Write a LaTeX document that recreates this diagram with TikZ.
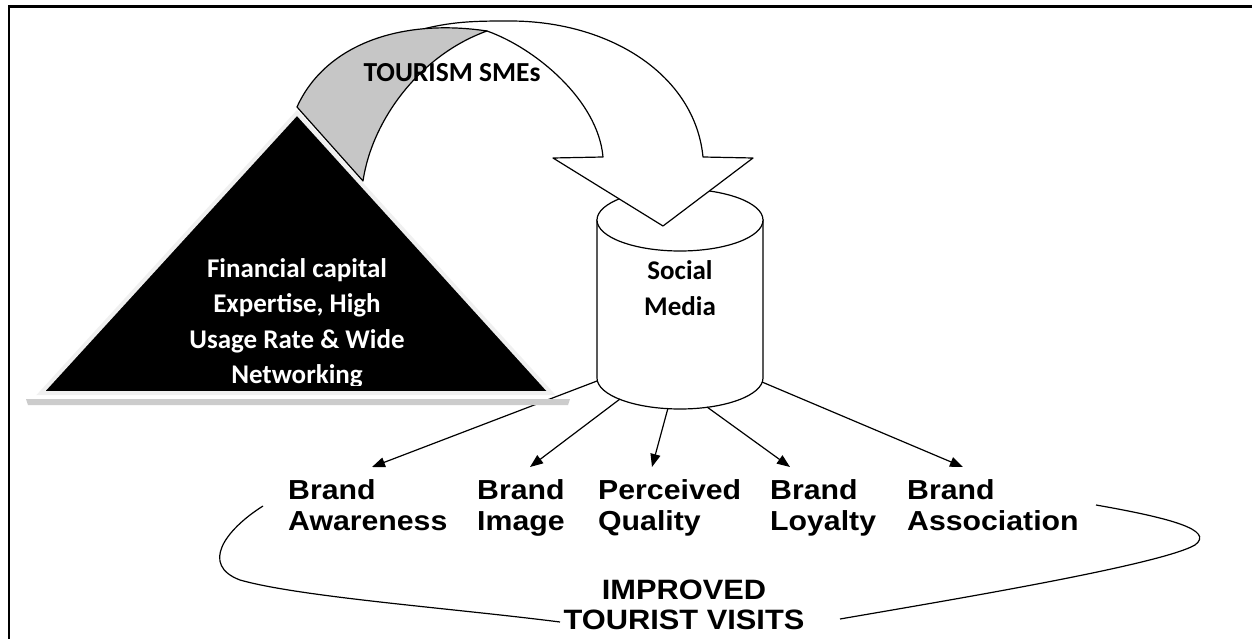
\documentclass[tikz,border=0pt]{standalone}
\usepackage{fontspec}
\setmainfont{Carlito}
\newfontfamily\calfont{Carlito}
\newfontfamily\brandfont[FakeStretch=1.1]{Liberation Sans}
\usetikzlibrary{arrows.meta}

\tikzset{
  frameline/.style={line width=2.2pt},
  bandline/.style={draw=black, line width=1.2pt, line join=round},
  tribody/.style={fill=black, draw=gray!12, line width=4pt, line join=miter},
  trishadow/.style={fill=gray!40},
  tritext/.style={font=\calfont\bfseries\fontsize{27}{35.5}\selectfont, text=white,
    align=center, inner sep=0pt, anchor=north},
  cylline/.style={draw=black, line width=1.2pt, fill=white},
  cyltext/.style={font=\calfont\bfseries\fontsize{27}{36}\selectfont,
    align=center, inner sep=0pt, anchor=north},
  smestext/.style={font=\calfont\bfseries\fontsize{27.5}{30}\selectfont, inner sep=0pt, anchor=base},
  brand/.style={font=\brandfont\bfseries\fontsize{27.5}{31}\selectfont,
    align=left, inner sep=0pt, anchor=north west},
  visits/.style={font=\brandfont\bfseries\fontsize{28}{30}\selectfont,
    align=center, inner sep=0pt, anchor=north},
  link/.style={draw=black, line width=1.2pt, -{Triangle[length=13pt,width=10pt]}},
  loop/.style={draw=black, line width=1.2pt},
}

\begin{document}
\begin{tikzpicture}[x=1pt,y=-1pt]
\useasboundingbox (0,0) rectangle (1252,639);
\fill[white] (0,0) rectangle (1252,639);

% frame (left and top edges)
\draw[frameline] (9,639) -- (9,6.5) -- (1252,6.5);

% social media cylinder
\path[cylline] (597,220) -- (597,378)
  .. controls (597,395.1) and (634.2,409) .. (680,409)
  .. controls (725.8,409) and (763,395.1) .. (763,378)
  -- (763,220) -- cycle;
\draw[cylline] (680,220) ellipse [x radius=83, y radius=31];
\node[cyltext] (sm) at (680,260) {Social\\Media};

% rim points where the links leave the cylinder
\coordinate (s1) at (597,381);
\coordinate (s2) at (620,399);
\coordinate (s3) at (668,408);
\coordinate (s4) at (707,407);
\coordinate (s5) at (762,382);

% curved arrow: front band with head
\path[bandline, fill=white] (424.5,28.7) .. controls (455,21) and (480,21) .. (510,21)
  .. controls (610,21) and (695,75) .. (703,157)
  -- (753,158) -- (663,226) -- (553,158) -- (603,157)
  .. controls (598,100) and (535,48) .. (487,31) -- cycle;
% curved arrow: shaded back face
\path[bandline, fill=gray!45] (297,107) .. controls (325,45) and (400,18) .. (487,31)
  .. controls (420,55) and (372,120) .. (363,181) -- cycle;
\node[smestext] (smes) at (452,82) {TOURISM SMEs};

% brand equity dimensions
\node[brand] (aware) at (288,479) {Brand\\Awareness};
\node[brand] (image) at (477,479) {Brand\\Image};
\node[brand] (qual)  at (598,479) {Perceived\\Quality};
\node[brand] (loyal) at (770,479) {Brand\\Loyalty};
\node[brand] (assoc) at (907,479) {Brand\\Association};

\coordinate (t1) at (372,467);
\coordinate (t2) at (530,467);
\coordinate (t3) at (652,467);
\coordinate (t4) at (790,467);
\coordinate (t5) at (963,467);

\draw[link] (s1) -- (t1);
\draw[link] (s2) -- (t2);
\draw[link] (s3) -- (t3);
\draw[link] (s4) -- (t4);
\draw[link] (s5) -- (t5);

% resource triangle, lying over the first link
\path[trishadow] (26,399) -- (570,399) -- (568,405) -- (28,405) -- cycle;
\path[tribody] (297,113) -- (551,393) -- (41,393) -- cycle;
\begin{scope}
  \clip (0,0) rectangle (1252,385);
  \node[tritext] (tri) at (297,258) {Financial capital\\Expertise, High\\Usage Rate \& Wide\\Networking};
\end{scope}

% outcome
\node[visits] (visit) at (684,580) {IMPROVED\\TOURIST VISITS};

\coordinate (la) at (263,506);
\coordinate (lb) at (560,622);
\coordinate (ra) at (1096,505);
\coordinate (rb) at (840,619);
\draw[loop] (la) .. controls (225,530) and (200,565) .. (240,580)
  .. controls (300,597) and (450,608) .. (lb);
\draw[loop] (ra) .. controls (1170,518) and (1215,530) .. (1195,545)
  .. controls (1160,565) and (950,600) .. (rb);
\end{tikzpicture}
\end{document}
